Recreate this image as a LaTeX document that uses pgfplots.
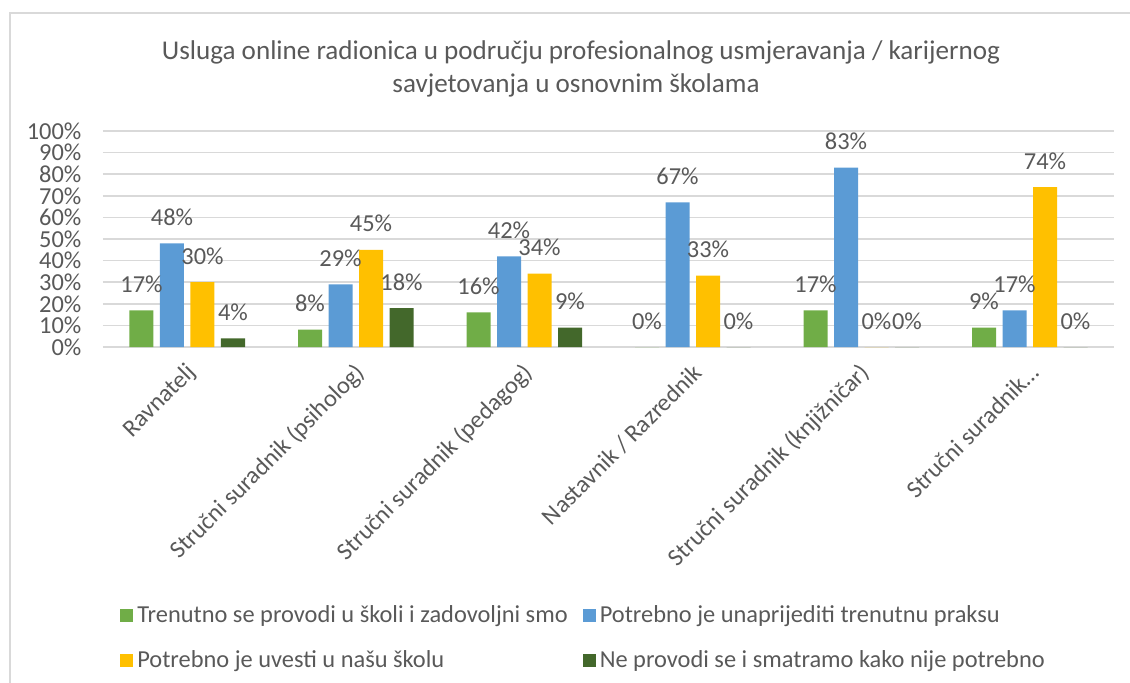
\documentclass[border=0pt]{standalone}
\usepackage{pgfplots}
\pgfplotsset{compat=1.18}
\usepackage{fontspec}
\setmainfont{Carlito}
\definecolor{cG}{HTML}{70AD47}
\definecolor{cB}{HTML}{5B9BD5}
\definecolor{cY}{HTML}{FFC000}
\definecolor{cD}{HTML}{43682B}
\definecolor{txt}{HTML}{595959}
\definecolor{gridc}{HTML}{D9D9D9}
\begin{document}
\begin{tikzpicture}
\useasboundingbox (0pt,0pt) rectangle (565pt,-341pt);
\draw[gridc, line width=1pt] (5pt,-350pt) -- (5pt,-6.5pt) -- (575pt,-6.5pt);
\node[txt, anchor=base, font=\fontsize{13.55}{16.5}\selectfont] at (290.5pt,-29.5pt) {Usluga online radionica u području profesionalnog usmjeravanja / karijernog};
\node[txt, anchor=base, font=\fontsize{13.55}{16.5}\selectfont] at (288pt,-46pt) {savjetovanja u osnovnim školama};
\begin{axis}[
  at={(51.5pt,-173.5pt)}, anchor=south west, scale only axis,
  width=505.5pt, height=108pt,
  ymin=0, ymax=100, xmin=-0.5, xmax=5.5,
  ytick={0,10,...,100},
  yticklabels={0\%,10\%,20\%,30\%,40\%,50\%,60\%,70\%,80\%,90\%,100\%},
  xtick={0,...,5},
  xticklabels={Ravnatelj,Stručni suradnik (psiholog),Stručni suradnik (pedagog),Nastavnik / Razrednik,Stručni suradnik (knjižničar),Stručni suradnik…},
  ybar=3.25pt, bar width=12pt,
  axis line style={draw=none},
  ymajorgrids, major grid style={gridc, line width=0.75pt},
  major tick length=0pt, tick style={draw=none},
  ticklabel style={txt, font=\fontsize{12.2}{14.6}\selectfont},
  yticklabel style={xshift=-7.3pt},
  xticklabel style={xshift=5pt, yshift=-8.5pt, rotate=45, anchor=east},
  /pgf/number format/assume math mode=true,
  nodes near coords={\pgfmathprintnumber[fixed,precision=0]{\pgfplotspointmeta}\%},
  every node near coord/.append style={txt, font=\fontsize{12.2}{14.6}\selectfont, anchor=base, yshift=9pt},
  legend image code/.code={\fill[#1] (0pt,-3.25pt) rectangle (6.5pt,3.25pt);},
  legend columns=2,
  legend style={draw=none, fill=none, at={(axis description cs:0.0108,-1.158)}, anchor=north west,
    font=\fontsize{12.2}{14.6}\selectfont, text=txt, row sep=8.5pt,
    /tikz/every even column/.append style={column sep=5.5pt}},
  legend cell align=left,
]
\addplot[fill=cG, draw=none] coordinates {(0,17) (1,8) (2,16) (3,0) (4,17) (5,9)};
\addplot[fill=cB, draw=none] coordinates {(0,48) (1,29) (2,42) (3,67) (4,83) (5,17)};
\addplot[fill=cY, draw=none] coordinates {(0,30) (1,45) (2,34) (3,33) (4,0) (5,74)};
\addplot[fill=cD, draw=none] coordinates {(0,4) (1,18) (2,9) (3,0) (4,0) (5,0)};
\legend{Trenutno se provodi u školi i zadovoljni smo,Potrebno je unaprijediti trenutnu praksu,Potrebno je uvesti u našu školu,Ne provodi se i smatramo kako nije potrebno}
\end{axis}
\end{tikzpicture}
\end{document}
